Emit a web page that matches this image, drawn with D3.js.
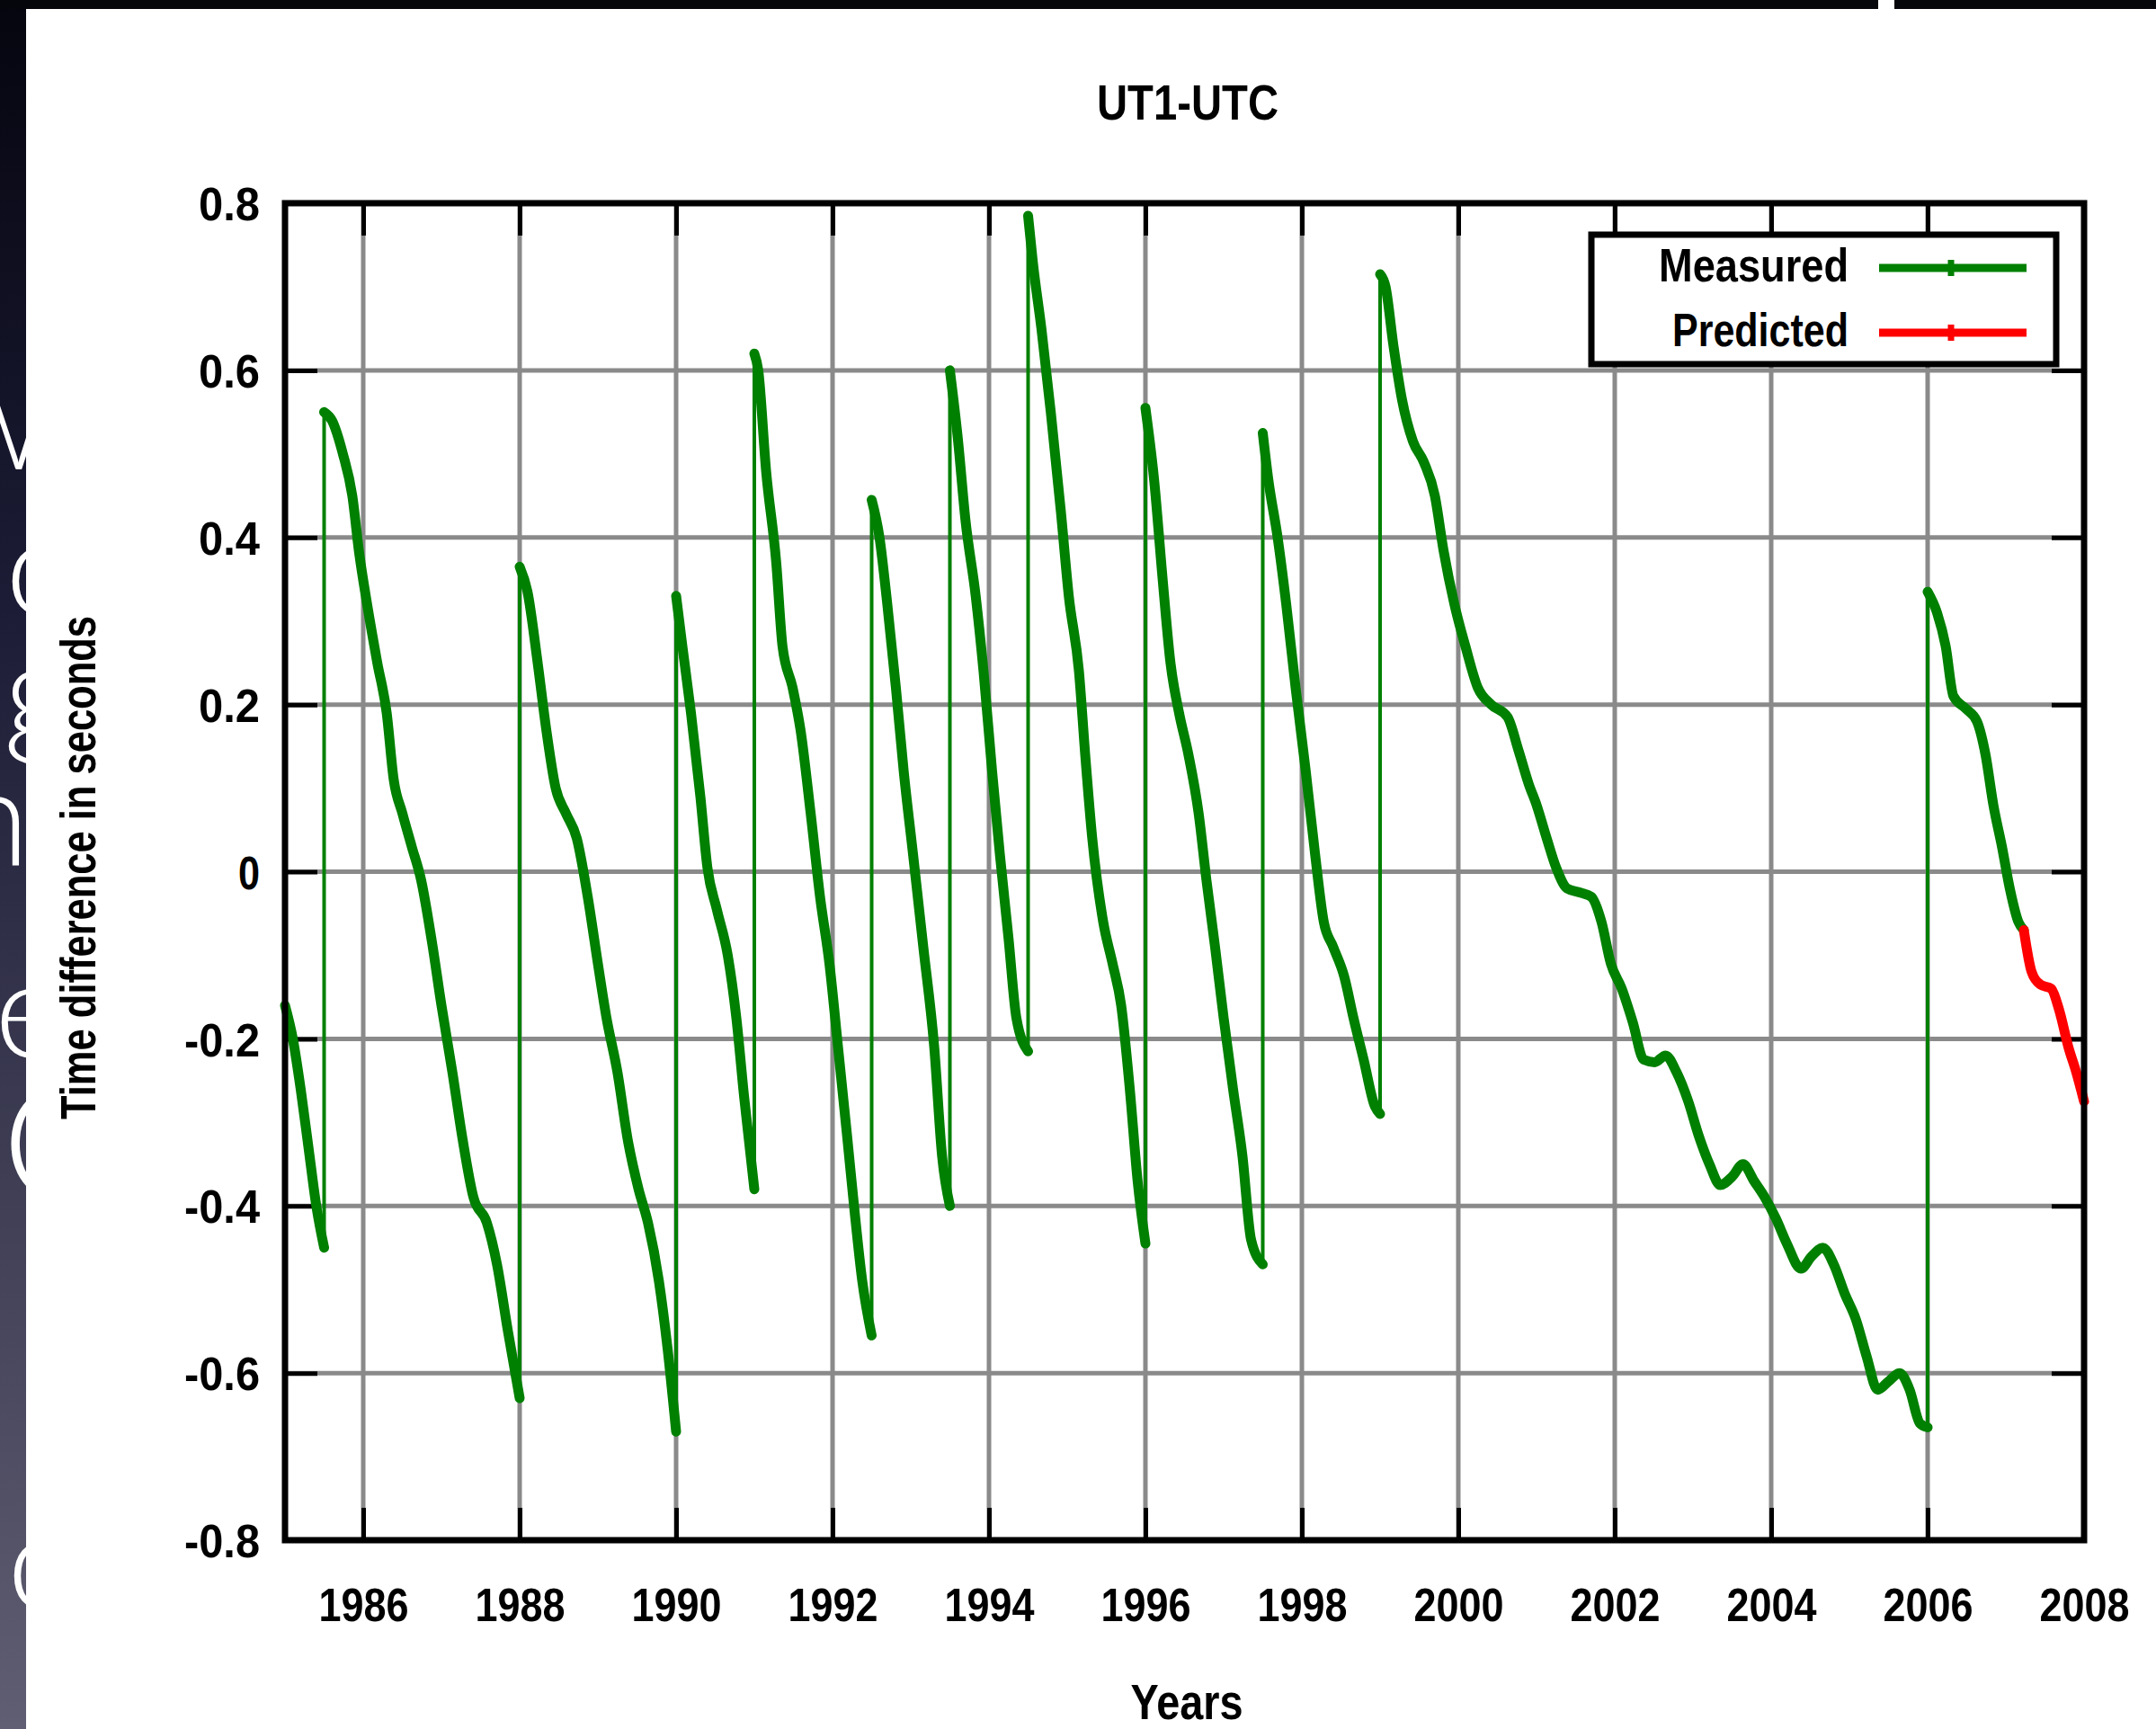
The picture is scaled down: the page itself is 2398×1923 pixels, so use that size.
<!DOCTYPE html>
<html>
<head>
<meta charset="utf-8">
<script src="https://cdn.jsdelivr.net/npm/d3@7"></script>
<style>
  html, body { margin: 0; padding: 0; background: #ffffff; }
  svg { display: block; }
  text { font-family: "Liberation Sans", Arial, sans-serif; font-weight: bold; fill: #000; }
</style>
</head>
<body>
<svg id="chart" width="2398" height="1923"></svg>
<script>
// UT1-UTC, measured: [decimal year, seconds]. A repeated year marks a leap second step.
const measuredYears = [
  1985.00, 1985.10, 1985.20, 1985.30, 1985.40, 1985.50,
  1985.50, 1985.60, 1985.74, 1985.86, 1985.95, 1986.05, 1986.18, 1986.30, 1986.39, 1986.50, 1986.62, 1986.74, 1986.88, 1987.00, 1987.14, 1987.27, 1987.41, 1987.58, 1987.71, 1987.85, 1988.00,
  1988.00, 1988.10, 1988.23, 1988.34, 1988.46, 1988.59, 1988.73, 1988.87, 1989.00, 1989.11, 1989.25, 1989.38, 1989.52, 1989.64, 1989.78, 1989.89, 1990.00,
  1990.00, 1990.08, 1990.19, 1990.31, 1990.40, 1990.52, 1990.66, 1990.77, 1990.87, 1991.00,
  1991.00, 1991.05, 1991.15, 1991.28, 1991.36, 1991.49, 1991.59, 1991.72, 1991.84, 1991.96, 1992.07, 1992.19, 1992.28, 1992.38, 1992.50,
  1992.50, 1992.60, 1992.70, 1992.81, 1992.91, 1993.03, 1993.16, 1993.30, 1993.40, 1993.50,
  1993.50, 1993.60, 1993.70, 1993.83, 1993.93, 1994.04, 1994.14, 1994.25, 1994.35, 1994.50,
  1994.50, 1994.56, 1994.67, 1994.79, 1994.92, 1995.02, 1995.15, 1995.23, 1995.32, 1995.46, 1995.58, 1995.69, 1995.80, 1995.90, 1996.00,
  1996.00, 1996.11, 1996.22, 1996.32, 1996.43, 1996.55, 1996.68, 1996.78, 1996.89, 1997.00, 1997.12, 1997.24, 1997.35, 1997.50,
  1997.50, 1997.57, 1997.69, 1997.80, 1997.92, 1998.05, 1998.17, 1998.28, 1998.40, 1998.54, 1998.66, 1998.79, 1998.93, 1999.00,
  1999.00, 1999.07, 1999.17, 1999.28, 1999.42, 1999.56, 1999.70, 1999.81, 1999.95, 2000.09, 2000.25, 2000.42, 2000.63, 2000.77, 2000.90,
  2001.00, 2001.13, 2001.25, 2001.39, 2001.56, 2001.70, 2001.83, 2001.95, 2002.09, 2002.23, 2002.37, 2002.51, 2002.65, 2002.79, 2002.94,
  2003.07, 2003.21, 2003.35, 2003.50, 2003.64, 2003.78, 2003.92, 2004.06, 2004.20, 2004.38, 2004.52, 2004.66, 2004.80, 2004.94,
  2005.08, 2005.22, 2005.36, 2005.50, 2005.64, 2005.77, 2005.90, 2006.00,
  2006.00, 2006.12, 2006.23, 2006.33, 2006.49, 2006.63, 2006.74, 2006.84, 2006.95, 2007.05, 2007.16, 2007.23
];
const measuredValues = [
  -0.16, -0.20, -0.26, -0.33, -0.40, -0.45,
  0.55, 0.54, 0.50, 0.45, 0.38, 0.32, 0.25, 0.19, 0.11, 0.07, 0.03, -0.01, -0.085, -0.16, -0.24, -0.32, -0.39, -0.42, -0.47, -0.55, -0.63,
  0.365, 0.335, 0.25, 0.17, 0.10, 0.07, 0.04, -0.03, -0.11, -0.175, -0.24, -0.32, -0.38, -0.42, -0.49, -0.57, -0.67,
  0.33, 0.27, 0.19, 0.09, 0.005, -0.045, -0.10, -0.175, -0.27, -0.38,
  0.62, 0.60, 0.48, 0.37, 0.27, 0.22, 0.17, 0.07, -0.03, -0.11, -0.21, -0.32, -0.405, -0.49, -0.555,
  0.445, 0.40, 0.32, 0.22, 0.12, 0.02, -0.09, -0.21, -0.34, -0.40,
  0.60, 0.52, 0.42, 0.33, 0.24, 0.12, 0.02, -0.08, -0.175, -0.215,
  0.785, 0.73, 0.65, 0.55, 0.43, 0.33, 0.24, 0.14, 0.04, -0.06, -0.11, -0.16, -0.26, -0.37, -0.445,
  0.555, 0.47, 0.35, 0.25, 0.19, 0.14, 0.07, -0.01, -0.09, -0.175, -0.26, -0.34, -0.44, -0.47,
  0.525, 0.47, 0.40, 0.32, 0.22, 0.12, 0.02, -0.06, -0.09, -0.125, -0.175, -0.225, -0.28, -0.29,
  0.715, 0.70, 0.63, 0.565, 0.515, 0.49, 0.45, 0.385, 0.32, 0.27, 0.22, 0.20, 0.185, 0.145, 0.105,
  0.08, 0.04, 0.005, -0.02, -0.025, -0.03, -0.06, -0.11, -0.14, -0.18, -0.225, -0.228, -0.22, -0.24, -0.275,
  -0.315, -0.35, -0.375, -0.365, -0.35, -0.37, -0.39, -0.415, -0.445, -0.475, -0.46, -0.45, -0.47, -0.505,
  -0.535, -0.58, -0.62, -0.61, -0.60, -0.62, -0.66, -0.665,
  0.335, 0.31, 0.27, 0.21, 0.195, 0.18, 0.14, 0.08, 0.03, -0.02, -0.06, -0.07
];
// UT1-UTC, predicted continuation
const predictedYears  = [2007.23, 2007.33, 2007.44, 2007.58, 2007.68, 2007.80, 2007.90, 2008.00];
const predictedValues = [-0.07, -0.12, -0.135, -0.14, -0.165, -0.21, -0.24, -0.275];

const xTicks = [1986, 1988, 1990, 1992, 1994, 1996, 1998, 2000, 2002, 2004, 2006, 2008];
const yTicks = [-0.8, -0.6, -0.4, -0.2, 0, 0.2, 0.4, 0.6, 0.8];
const seriesNames = ["Measured", "Predicted"];
const seriesColors = ["#008000", "#ff0000"];

// Letters of the slide text behind the chart, seen in the left margin
const slideLetters = ["w", "o", "g", "n", "e", "O", "o"];

const svg = d3.select("#chart");
const W = 2398, H = 1923;

// ---- slide backdrop ----
const defs = svg.append("defs");
const grad = defs.append("linearGradient").attr("id", "slideBg")
  .attr("x1", 0).attr("y1", 0).attr("x2", 0).attr("y2", 1);
grad.append("stop").attr("offset", "0%").attr("stop-color", "#05050f");
grad.append("stop").attr("offset", "35%").attr("stop-color", "#1c1c36");
grad.append("stop").attr("offset", "100%").attr("stop-color", "#5f5e72");
defs.append("clipPath").attr("id", "stripClip")
  .append("rect").attr("x", 0).attr("y", 0).attr("width", 29).attr("height", H);

svg.append("rect").attr("x", 0).attr("y", 0).attr("width", W).attr("height", H).attr("fill", "#ffffff");
svg.append("rect").attr("x", 0).attr("y", 0).attr("width", 29).attr("height", H).attr("fill", "url(#slideBg)");
svg.append("rect").attr("x", 0).attr("y", 0).attr("width", 2089).attr("height", 10).attr("fill", "#05050c");
svg.append("rect").attr("x", 2107).attr("y", 0).attr("width", W - 2107).attr("height", 10).attr("fill", "#05050c");

const letterPos = [
  { x: -62, y: 522, s: 150 }, { x: 6, y: 684, s: 150 }, { x: 4, y: 822, s: 150 },
  { x: -50, y: 962, s: 150 }, { x: -6, y: 1176, s: 150 }, { x: 2, y: 1336, s: 180 }, { x: 8, y: 1790, s: 150 }
];
svg.append("g").attr("clip-path", "url(#stripClip)")
  .selectAll("text").data(slideLetters).join("text")
  .attr("x", (d, i) => letterPos[i].x)
  .attr("y", (d, i) => letterPos[i].y)
  .style("font-family", "Lato, 'Open Sans', sans-serif")
  .style("font-weight", 300)
  .style("font-size", (d, i) => letterPos[i].s + "px")
  .style("fill", "#ffffff")
  .text(d => d);

// ---- plot ----
const plot = { left: 317, right: 2318, top: 226, bottom: 1713 };
const x = d3.scaleLinear().domain([1985, 2008]).range([plot.left, plot.right]);
const y = d3.scaleLinear().domain([-0.8, 0.8]).range([plot.bottom, plot.top]);

// grid
const grid = svg.append("g");
grid.selectAll("line.vx").data(xTicks.filter(t => t < 2008)).join("line")
  .attr("x1", d => x(d)).attr("x2", d => x(d))
  .attr("y1", plot.top).attr("y2", plot.bottom)
  .attr("stroke", "#8a8a8a").attr("stroke-width", 5);
grid.selectAll("line.hy").data(yTicks.filter(t => t > -0.8 && t < 0.8)).join("line")
  .attr("x1", plot.left).attr("x2", plot.right)
  .attr("y1", d => y(d)).attr("y2", d => y(d))
  .attr("stroke", "#8a8a8a").attr("stroke-width", 5);

// ticks on all four sides
const tickLen = 36;
const yFmt = d => d === 0 ? "0" : d.toFixed(1);
const axisBottom = d3.axisBottom(x).tickValues(xTicks).tickSize(-tickLen).tickFormat(d3.format("d")).tickPadding(58);
const axisTop = d3.axisTop(x).tickValues(xTicks).tickSize(-tickLen).tickFormat("");
const axisLeft = d3.axisLeft(y).tickValues(yTicks).tickSize(-tickLen).tickPadding(64).tickFormat(yFmt);
const axisRight = d3.axisRight(y).tickValues(yTicks).tickSize(-tickLen).tickFormat("");

function styleAxis(g) {
  g.select(".domain").remove();
  g.selectAll(".tick line").attr("stroke", "#000").attr("stroke-width", 5);
}
const gb = svg.append("g").attr("transform", `translate(0,${plot.bottom})`).call(axisBottom).call(styleAxis);
gb.selectAll(".tick text")
  .attr("font-family", null).attr("font-size", null)
  .style("font-size", "52px").attr("dy", null).attr("y", 90)
  .attr("textLength", 100).attr("lengthAdjust", "spacingAndGlyphs");
svg.append("g").attr("transform", `translate(0,${plot.top})`).call(axisTop).call(styleAxis);
const gl = svg.append("g").attr("transform", `translate(${plot.left},0)`).call(axisLeft).call(styleAxis);
gl.selectAll(".tick text")
  .attr("font-family", null).attr("font-size", null)
  .style("font-size", "52px").attr("dy", "0.36em").attr("x", -28)
  .attr("textLength", d => d === 0 ? 24 : (d < 0 ? 84 : 68)).attr("lengthAdjust", "spacingAndGlyphs");
svg.append("g").attr("transform", `translate(${plot.right},0)`).call(axisRight).call(styleAxis);

// measured series: thick runs between leap seconds, thin vertical steps at them
const measured = measuredYears.map((yr, i) => ({ yr, v: measuredValues[i] }));
const predicted = predictedYears.map((yr, i) => ({ yr, v: predictedValues[i] }));
const runs = [];
const steps = [];
let cur = [measured[0]];
for (let i = 1; i < measured.length; i++) {
  if (measured[i].yr === measured[i - 1].yr) {
    steps.push([measured[i - 1], measured[i]]);
    runs.push(cur);
    cur = [measured[i]];
  } else {
    cur.push(measured[i]);
  }
}
runs.push(cur);

const line = d3.line().curve(d3.curveMonotoneX).x(d => x(d.yr)).y(d => y(d.v));
const series = svg.append("g");
series.selectAll("line.step").data(steps).join("line")
  .attr("x1", d => x(d[0].yr)).attr("x2", d => x(d[1].yr))
  .attr("y1", d => y(d[0].v)).attr("y2", d => y(d[1].v))
  .attr("stroke", seriesColors[0]).attr("stroke-width", 4);
series.selectAll("path.run").data(runs).join("path")
  .attr("d", line)
  .attr("fill", "none").attr("stroke", seriesColors[0]).attr("stroke-width", 11)
  .attr("stroke-linejoin", "round").attr("stroke-linecap", "round");
series.append("path").datum(predicted)
  .attr("d", line)
  .attr("fill", "none").attr("stroke", seriesColors[1]).attr("stroke-width", 11)
  .attr("stroke-linejoin", "round").attr("stroke-linecap", "round");

// frame
svg.append("rect")
  .attr("x", plot.left).attr("y", plot.top)
  .attr("width", plot.right - plot.left).attr("height", plot.bottom - plot.top)
  .attr("fill", "none").attr("stroke", "#000").attr("stroke-width", 7);

// legend
const lg = svg.append("g");
lg.append("rect").attr("x", 1770).attr("y", 261).attr("width", 517).attr("height", 144)
  .attr("fill", "#fff").attr("stroke", "#000").attr("stroke-width", 7);
const legendRows = lg.selectAll("g.row").data(seriesNames).join("g")
  .attr("transform", (d, i) => `translate(0,${298 + i * 72})`);
legendRows.append("text")
  .attr("x", 2056).attr("y", 15).attr("text-anchor", "end")
  .style("font-size", "52px")
  .attr("textLength", (d, i) => i === 0 ? 211 : 196).attr("lengthAdjust", "spacingAndGlyphs")
  .text(d => d);
legendRows.append("line")
  .attr("x1", 2090).attr("x2", 2254).attr("y1", 0).attr("y2", 0)
  .attr("stroke", (d, i) => seriesColors[i]).attr("stroke-width", 9);
legendRows.append("line")
  .attr("x1", 2170).attr("x2", 2170).attr("y1", -9).attr("y2", 9)
  .attr("stroke", (d, i) => seriesColors[i]).attr("stroke-width", 7);

// titles
svg.append("text").attr("x", 1321).attr("y", 133).attr("text-anchor", "middle")
  .style("font-size", "55px").attr("textLength", 202).attr("lengthAdjust", "spacingAndGlyphs")
  .text("UT1-UTC");
svg.append("text").attr("x", 1320).attr("y", 1912).attr("text-anchor", "middle")
  .style("font-size", "55px").attr("textLength", 125).attr("lengthAdjust", "spacingAndGlyphs")
  .text("Years");
svg.append("text")
  .attr("transform", "translate(106,965) rotate(-90)")
  .attr("text-anchor", "middle")
  .style("font-size", "55px").attr("textLength", 560).attr("lengthAdjust", "spacingAndGlyphs")
  .text("Time difference in seconds");
</script>
</body>
</html>
